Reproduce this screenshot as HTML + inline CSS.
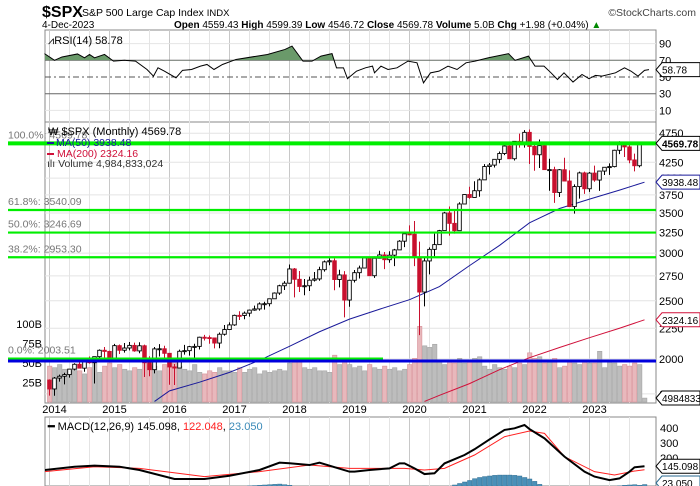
<!DOCTYPE html>
<html><head><meta charset="utf-8"><style>
body{margin:0;background:#fff;width:700px;height:486px;overflow:hidden;font-family:"Liberation Sans",sans-serif}
svg{display:block}
</style></head><body>
<svg id="c" width="700" height="486" xmlns="http://www.w3.org/2000/svg" font-family="Liberation Sans, sans-serif">
<text x="42" y="17" font-size="16" font-weight="bold" fill="#000">$SPX</text>
<text x="82" y="16" font-size="10.5" fill="#000">S&amp;P 500 Large Cap Index <tspan font-size="9.5">INDX</tspan></text>
<text x="696" y="16" font-size="10.5" fill="#444" text-anchor="end">©StockCharts.com</text>
<text x="42" y="28" font-size="10" fill="#000">4-Dec-2023</text>
<text x="174" y="28" font-size="10" fill="#000"><tspan font-weight="bold">Open</tspan> 4559.43 <tspan font-weight="bold">High</tspan> 4599.39 <tspan font-weight="bold">Low</tspan> 4546.72 <tspan font-weight="bold">Close</tspan> 4569.78 <tspan font-weight="bold">Volume</tspan> 5.0B <tspan font-weight="bold">Chg</tspan> +1.98 (+0.04%) <tspan fill="#080">▲</tspan></text>
<g id="g"></g>
</svg>
<script>
// ---- data ----
const closes=[1783,1859,1872,1884,1924,1960,1931,2003,1972,2018,2068,2059,
1995,2105,2068,2086,2107,2063,2104,1972,1920,2079,2080,2044,
1940,1932,2060,2065,2097,2099,2174,2171,2168,2126,2199,2239,
2279,2364,2363,2384,2412,2423,2470,2472,2519,2575,2648,2674,
2824,2714,2641,2648,2705,2718,2816,2902,2914,2712,2760,2507,
2704,2784,2834,2946,2752,2942,2980,2926,2977,3038,3141,3231,
3226,2954,2585,2912,3044,3100,3271,3500,3363,3270,3622,3756,
3714,3811,3973,4181,4204,4298,4395,4523,4308,4605,4567,4766,
4516,4374,4530,4132,4132,3785,4130,3955,3586,3872,4080,3840,
4077,3970,4109,4169,4180,4450,4589,4508,4288,4194,4568,4570];
const firstOpen=1845;
const highs=[1850,1867,1884,1897,1925,1968,1991,2005,2019,2018,2075,2094,
2064,2119,2114,2126,2135,2130,2133,2113,2021,2094,2117,2104,
2038,1962,2073,2111,2103,2120,2178,2194,2188,2169,2214,2278,
2301,2371,2401,2399,2418,2454,2484,2491,2520,2582,2658,2695,
2873,2835,2802,2717,2742,2791,2848,2917,2941,2940,2815,2800,
2708,2813,2860,2949,2955,2964,3028,3014,3022,3050,3154,3248,
3337,3394,3136,2954,3068,3233,3280,3514,3588,3550,3646,3760,
3870,3951,3995,4219,4238,4302,4429,4537,4546,4608,4744,4808,
4818,4595,4637,4594,4307,4177,4140,4325,4120,3905,4100,4101,
4095,4195,4110,4170,4231,4458,4607,4584,4542,4393,4587,4599];
const lows=[1738,1737,1834,1815,1862,1915,1930,1905,1965,1821,2001,1973,
1981,1981,2039,2049,2067,2056,2045,1867,1872,1893,2019,1993,
1812,1810,1932,2034,2026,1992,2074,2147,2120,2083,2084,2187,
2245,2271,2322,2329,2353,2406,2407,2417,2447,2520,2557,2605,
2683,2533,2585,2553,2595,2692,2699,2795,2864,2603,2631,2346,
2443,2681,2722,2849,2751,2729,2952,2822,2892,2855,3051,3070,
3214,2855,2192,2447,2766,2965,3101,3280,3209,3233,3280,3625,
3695,3720,3724,3978,4056,4165,4233,4368,4305,4279,4495,4495,
4222,4115,4157,4125,3811,3637,3721,3955,3584,3491,3698,3765,
3794,3944,3809,4048,4049,4167,4385,4336,4235,4104,4167,4547];
const volumes=[46,44,48,42,40,42,40,36,44,52,38,46,
50,44,48,42,40,44,42,50,48,46,40,48,
54,52,46,42,40,48,38,36,40,38,44,40,
40,38,44,38,42,44,36,40,38,40,42,40,
50,56,52,44,42,44,40,40,38,60,48,52,
48,44,46,40,48,44,42,46,42,44,40,42,
48,56,97,72,70,74,54,48,52,50,56,50,
54,56,58,46,42,48,44,42,46,44,50,48,
63,56,58,50,54,56,44,46,52,50,48,52,
50,50,65,44,52,50,46,48,46,50,48,5];
const rsiMonths=[-1,1,2.5,5.6,7,8,9,11,12.8,15,17.2,19.5,20.8,21.7,23,25.3,26.6,28.4,30.2,31.5,32.9,34.6,37.3,43.6,47.1,48.5,50.7,52.5,54.3,56.5,57.4,58.8,59.6,61.4,63.2,64.6,65,66.3,67.7,69.5,71.7,73.5,74.8,76.2,77.9,79.7,81.5,83.3,85.1,87.8,91.8,93.1,95.8,97.1,98.9,100.3,101.6,102.9,104.7,106.5,107.9,109.2,110.5,113.2,115,116.3,117.7,119,119.9];
const rsiValues=[78,70,74,77.6,73,77,73,77,69,70,69,59,51,61,57,49,58,59,63,65,59,65,71,77,83,87,69,69,75,78,61,61,48,57,61,63,55,63,59,61,69,67,43,55,57,63,59,67,69,73,78,70,75,63,63,55,47,55,44,53,48,52,51,55,61,57,51,58,58.78];
const maMonths50=[21,24,30,36,42,48,54,60,66,72,78,84,90,96,102,108,114,119];
const ma50=[1700,1770,1830,1900,1990,2100,2220,2330,2420,2510,2640,2860,3090,3370,3560,3690,3820,3938];
const maMonths200=[75,78,84,90,96,102,108,114,119];
const ma200=[1700,1740,1820,1920,2010,2090,2170,2250,2324];
const macdMonths=[-1,5,9,14,18,25,31,36,42,46,48,52,54,60,61,64,68,70,71,73,75,77,79,83,85,88,91,93,95,96,99,103,107,109,112,114,116,117,119];
const macdValues=[120,142,149,142,120,60,60,82,120,169,165,153,169,109,109,120,131,164,164,131,93,98,164,220,258,324,387,398,420,393,331,209,109,76,53,64,109,138,145];
const sigMonths=[-1,9,18,31,42,52,60,71,75,79,85,91,96,99,103,109,113,117,119];
const sigValues=[109,142,131,76,109,153,131,131,120,131,220,342,380,364,209,109,87,113,122];
const histMonths=[-1,0,1,2,38,39,40,41,42,43,44,45,46,47,48,49,74,75,80,81,82,83,84,85,86,87,88,89,90,91,92,93,94,95,96,97,98,113,114,115,116,117,118,119];
const histValues=[10,8,6,4,6,10,14,16,18,20,22,24,26,22,18,10,8,12,12,20,30,40,50,62,70,76,80,84,86,86,86,84,80,70,60,44,24,8,14,18,20,22,18,23];
const priceTicks=[1750,2000,2250,2500,2750,3000,3250,3500,3750,4000,4250,4750];
const rsiTicks=[10,30,50,70,90];
const macdTicks=[200,300,400];
const volTicks=[25,50,75,100];
const years=[2014,2015,2016,2017,2018,2019,2020,2021,2022,2023];
const fibPcts=["100.0%","61.8%","50.0%","38.2%","0.0%"];
const fibVals=[4569.78,3540.09,3246.69,2953.30,2003.51];

// ---- scales ----
const L=45,R=656;
const xM=m=>49.5+5*m;
const pY=p=>359-261*Math.log(p/2000);
const rY=v=>77-(v-50)*0.835;
const mY=v=>488-v*0.15;
const vY=v=>402-v*0.78;
const NS="http://www.w3.org/2000/svg";
const g=document.getElementById('g');
function el(t,a,parent){const e=document.createElementNS(NS,t);for(const k in a)e.setAttribute(k,a[k]);(parent||g).appendChild(e);return e;}
function txt(x,y,s,a,parent){const e=el('text',Object.assign({x:x,y:y,'font-size':11},a),parent);e.textContent=s;return e;}
const defs=el('defs',{});
const cp=el('clipPath',{id:'pclip'},defs);el('rect',{x:L,y:122,width:R-L,height:281},cp);
const cr=el('clipPath',{id:'rclip'},defs);el('rect',{x:L,y:30,width:R-L,height:rY(70)-30},cr);
const cm=el('clipPath',{id:'mclip'},defs);el('rect',{x:L,y:417,width:R-L,height:69},cm);

// panels
const panels=[[30,122],[122,403],[417,486]];
panels.forEach((p,i)=>{const r=el('rect',{x:L,y:p[0],width:R-L,height:p[1]-p[0],fill:'#fff',stroke:'#888','stroke-width':1});

});
// vertical grid
for(let m=0;m<120;m+=4){const x=xM(m);const yr=m%12==0;
 panels.forEach(p=>{const l=el('line',{x1:x,x2:x,y1:p[0],y2:p[1],stroke:yr?'#c8c8c8':'#e4e4e4','stroke-width':1});
 });}
// RSI
rsiTicks.forEach(v=>{const y=rY(v);
 const l=el('line',{x1:L,x2:R,y1:y,y2:y,stroke:(v==70||v==30)?'#666':(v==50?'#555':'#e4e4e4'),'stroke-width':1,'stroke-dasharray':v==50?'6,3,2,3':'none'});
 
 const t=txt(659,y+4,String(v),{fill:'#000'});});
let rp=rsiMonths.map((m,i)=>xM(m)+','+rY(rsiValues[i]));
const ra=el('polygon',{points:xM(rsiMonths[0])+','+rY(70)+' '+rp.join(' ')+' '+xM(rsiMonths[rsiMonths.length-1])+','+rY(70),fill:'#6a9a6a',stroke:'none','clip-path':'url(#rclip)'});

const rl=el('polyline',{points:rp.join(' '),fill:'none',stroke:'#000','stroke-width':1});

const rlg=txt(48,44,'⩘RSI(14) 58.78',{fill:'#000','font-size':11});



// price grid & ticks
priceTicks.forEach(v=>{const y=pY(v);
 const l=el('line',{x1:L,x2:R,y1:y,y2:y,stroke:'#e4e4e4'});
 const t=txt(659,y+4,String(v),{fill:'#000'});});
volTicks.forEach(v=>{const t=txt(42,vY(v)+4,v+'B',{fill:'#000','text-anchor':'end'});});
const pg=el('g',{'clip-path':'url(#pclip)'});
// volume
volumes.forEach((v,i)=>{const o=i?closes[i-1]:firstOpen;const dn=closes[i]<o;
 const b=el('rect',{x:xM(i)-2,y:vY(v),width:4.4,height:402-vY(v),fill:dn?'#e8b8bc':'#bdbdbd',stroke:dn?'#d89098':'#a4a4a4','stroke-width':0.6},pg);
 });
// MAs
function line(ms,vs,f,stroke,w,name,parent){const l=el('polyline',{points:ms.map((m,i)=>xM(m)+','+f(vs[i])).join(' '),fill:'none',stroke:stroke,'stroke-width':w},parent);
 return l;}
line(maMonths50,ma50,pY,'#1a1a9a',1,'ma50-line',pg);
line(maMonths200,ma200,pY,'#d0103a',1,'ma200-line',pg);
// candles
closes.forEach((c,i)=>{const o=i?closes[i-1]:firstOpen;const dn=c<o;const x=xM(i);
 const w=el('line',{x1:x,x2:x,y1:pY(highs[i]),y2:pY(lows[i]),stroke:dn?'#c8102e':'#000','stroke-width':1},pg);
 
 const top=pY(Math.max(o,c)),bot=pY(Math.min(o,c));
 const b=el('rect',{x:x-1.8,y:top,width:3.6,height:Math.max(1,bot-top),fill:dn?'#c8102e':'#fff',stroke:dn?'#c8102e':'#000','stroke-width':0.9},pg);
 });
// fib lines
fibVals.forEach((v,i)=>{const y=pY(v);const x2=i==4?383:R;
 const l=el('line',{x1:8,x2:x2,y1:y,y2:y,stroke:'#00ee00','stroke-width':i==0?4:2.2});
 
 const t=txt(8,y-5,fibPcts[i]+': '+v.toFixed(2),{fill:'#777','font-size':10.5});
 });
const hl=el('line',{x1:8,x2:R,y1:361,y2:361,stroke:'#0000dd','stroke-width':3});

// legend
const lg=el('g',{'font-size':11});
txt(48,135,'₩ $SPX (Monthly) 4569.78',{fill:'#000'},lg);
el('rect',{x:47,y:142,width:7,height:2,fill:'#1a1a9a'},lg);
txt(56,146,'MA(50) 3938.48',{fill:'#1a1a9a','font-size':10.5},lg);
el('rect',{x:47,y:153,width:7,height:2,fill:'#d0103a'},lg);
txt(57,157,'MA(200) 2324.16',{fill:'#d0103a','font-size':10.5},lg);
txt(47,167,'ılı Volume 4,984,833,024',{fill:'#333','font-size':10.5},lg);
// year labels
years.forEach((y,i)=>{const t=txt(xM(i*12)+5,413,String(y),{fill:'#000','text-anchor':'middle'});});
// MACD
macdTicks.forEach(v=>{const t=txt(660,mY(v)+4,String(v),{fill:'#000'});});
const mg=el('g',{'clip-path':'url(#mclip)'});
histMonths.forEach((m,i)=>{const b=el('rect',{x:xM(m)-2,y:mY(histValues[i]),width:4.4,height:histValues[i]*0.15+2,fill:'#4a90b8',stroke:'#2a6a90','stroke-width':0.5},mg);
 });
line(sigMonths,sigValues,mY,'#ff2020',1,'macd-signal-line',mg);
line(macdMonths,macdValues,mY,'#000',2,'macd-line',mg);
const ml=txt(48,430,'',{'font-size':11});
ml.innerHTML='<tspan font-weight="bold">━</tspan> MACD(12,26,9) 145.098, <tspan fill="#ff2020">122.048</tspan>, <tspan fill="#3a8ab8">23.050</tspan>';
// value tags
function tag(y,s,stroke,name){const gg=el('g',{});
 el('polygon',{points:`656,${y} 662,${y-7} 700,${y-7} 700,${y+7} 662,${y+7}`,fill:'#fff',stroke:stroke,'stroke-width':1},gg);
 txt(662,y+4,s,{fill:'#000','font-size':10,'font-weight':name=='close-tag'?'bold':'normal'},gg);}
tag(pY(4569.78),'4569.78','#000','close-tag');
tag(pY(3938.48),'3938.48','#1a1a9a','ma50-tag');
tag(pY(2324.16),'2324.16','#d0103a','ma200-tag');
tag(398,'4984833','#000','volume-tag');
tag(rY(58.78),'58.78','#000','rsi-tag');
tag(mY(145.1),'145.098','#000','macd-tag');
tag(483,'23.050','#2a6a90','macd-hist-tag');
</script>
</body></html>
